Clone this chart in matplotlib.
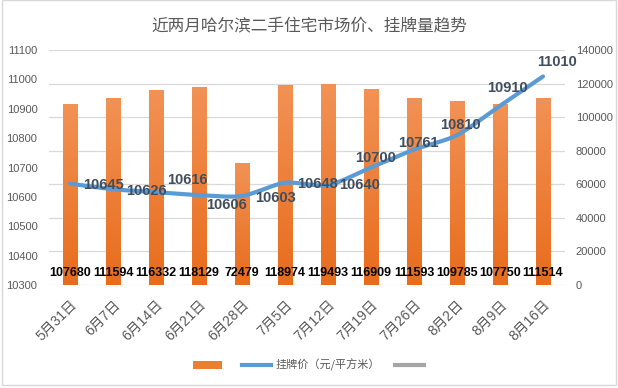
import numpy as np
import matplotlib
matplotlib.use('Agg')
import matplotlib.pyplot as plt
from matplotlib.lines import Line2D
from matplotlib.patches import Patch, Rectangle

plt.rcParams['font.family'] = ['Liberation Sans', 'Noto Sans CJK SC']

# ---------------- data ----------------
dates = ['5月31日', '6月7日', '6月14日', '6月21日', '6月28日', '7月5日',
         '7月12日', '7月19日', '7月26日', '8月2日', '8月9日', '8月16日']
listings = [107680, 111594, 116332, 118129, 72479, 118974,
            119493, 116909, 111593, 109785, 107750, 111514]
prices = [10645, 10626, 10616, 10606, 10603, 10648,
          10640, 10700, 10761, 10810, 10910, 11010]
price_name = '挂牌价（元/平方米）'
title = '近两月哈尔滨二手住宅市场价、挂牌量趋势'

# label placement offsets (pixels, x right / y up)
price_label_offsets = [(33, -1), (33, -2), (31, 12), (27, -10), (33, -2), (33, -1),
                       (32, 0), (5, 10), (4, 7), (3, 10), (7, 18), (14, 14)]

GRAY = '#595959'
ORANGE_TOP = np.array([0xF2, 0x92, 0x55]) / 255
ORANGE_BOT = np.array([0xE8, 0x6C, 0x1C]) / 255
BLUE = '#5B9BD5'

W, H = 618, 388
fig = plt.figure(figsize=(W / 100, H / 100), dpi=100)
rect = [48.5 / W, 1 - 285 / H, (564.5 - 48.5) / W, (285 - 50) / H]
ax2 = fig.add_axes(rect)          # bars (right axis)
ax1 = ax2.twinx()                 # price line (left axis) - drawn on top
ax1.yaxis.tick_left()
ax1.yaxis.set_label_position('left')
ax2.yaxis.tick_right()
ax2.yaxis.set_label_position('right')

x = np.arange(len(dates))

# ---- bars with vertical gradient ----
bw = 0.33
bars = ax2.bar(x, listings, width=bw, color='none', edgecolor='none', zorder=2)
grad = np.linspace(0, 1, 256)[:, None]
cols = ORANGE_TOP[None, None, :] * (1 - grad[..., None]) + ORANGE_BOT[None, None, :] * grad[..., None]
for b in bars:
    x0, w, h = b.get_x(), b.get_width(), b.get_height()
    im = ax2.imshow(cols, extent=(x0, x0 + w, 0, h), aspect='auto', origin='upper', zorder=2)
    im.set_clip_path(b)
for xi, v in zip(x, listings):
    ax2.annotate(str(v), (xi, 0), xytext=(0, 12), textcoords='offset pixels',
                 ha='center', va='center', fontsize=9, fontweight='bold', color='black', zorder=5)

ax2.set_ylim(0, 140000)
ax2.set_yticks(np.arange(0, 140001, 20000))
ax2.set_xlim(-0.5, len(dates) - 0.5)
ax2.grid(axis='y', color='#D9D9D9', lw=0.9, zorder=0)
ax2.set_axisbelow(True)

# ---- smoothed price line ----
def smooth(xs, ys, n=20):
    xs = np.asarray(xs, float); ys = np.asarray(ys, float)
    px = np.concatenate([[2 * xs[0] - xs[1]], xs, [2 * xs[-1] - xs[-2]]])
    py = np.concatenate([[2 * ys[0] - ys[1]], ys, [2 * ys[-1] - ys[-2]]])
    outx, outy = [], []
    for i in range(1, len(px) - 2):
        t = np.linspace(0, 1, n, endpoint=False)
        for arr, out in ((px, outx), (py, outy)):
            p0, p1, p2, p3 = arr[i - 1], arr[i], arr[i + 1], arr[i + 2]
            m1 = (p2 - p0) / 2 * 0.8
            m2 = (p3 - p1) / 2 * 0.8
            h00 = 2 * t**3 - 3 * t**2 + 1
            h10 = t**3 - 2 * t**2 + t
            h01 = -2 * t**3 + 3 * t**2
            h11 = t**3 - t**2
            out.extend(h00 * p1 + h10 * m1 + h01 * p2 + h11 * m2)
    outx.append(xs[-1]); outy.append(ys[-1])
    return np.array(outx), np.array(outy)

sx, sy = smooth(x, prices)
ax1.plot(sx, sy, color=BLUE, lw=3, solid_capstyle='round', zorder=3)
for xi, v, (dx, dy) in zip(x, prices, price_label_offsets):
    ax1.annotate(str(v), (xi, v), xytext=(dx, dy), textcoords='offset pixels',
                 ha='center', va='center', fontsize=10.5, fontweight='bold',
                 color='#404E5E', zorder=6)
ax1.set_ylim(10300, 11100)
ax1.set_yticks(np.arange(10300, 11101, 100))
ax1.set_xlim(-0.5, len(dates) - 0.5)

ax1.set_zorder(ax2.get_zorder() + 1)
ax1.patch.set_visible(False)

for a in (ax1, ax2):
    for s in a.spines.values():
        s.set_visible(False)
    a.tick_params(axis='y', length=0, labelsize=8, labelcolor=GRAY, pad=8)
ax1.tick_params(axis='x', length=0)
ax1.set_xticks([])
ax2.set_xticks(x)
ax2.set_xticklabels(dates, rotation=45, ha='right', rotation_mode='anchor',
                    fontsize=10, color=GRAY)
ax2.tick_params(axis='x', length=0, pad=9)

fig.text(0.5, 1 - 27 / H, title, ha='center', va='center', fontsize=12,
         color=GRAY, family=['Noto Sans CJK SC'])

handles = [Patch(facecolor='#ED7D31', edgecolor='none'),
           Line2D([], [], color=BLUE, lw=3),
           Line2D([], [], color='#A5A5A5', lw=3)]
leg = fig.legend(handles, ['', price_name, ''], loc='center', ncol=3,
                 bbox_to_anchor=(311 / W, 1 - 365 / H), frameon=False,
                 prop={'family': ['Noto Sans CJK SC'], 'size': 8},
                 handlelength=2.6, handletextpad=0.4, columnspacing=1.4)
for t in leg.get_texts():
    t.set_color(GRAY)

fig.patches.append(Rectangle((2 / W, 3 / H), 614 / W, 1 - 3 / H, transform=fig.transFigure,
                             fill=False, edgecolor='#D9D9D9', lw=1))

fig.savefig('out.png', dpi=100, facecolor='white')
